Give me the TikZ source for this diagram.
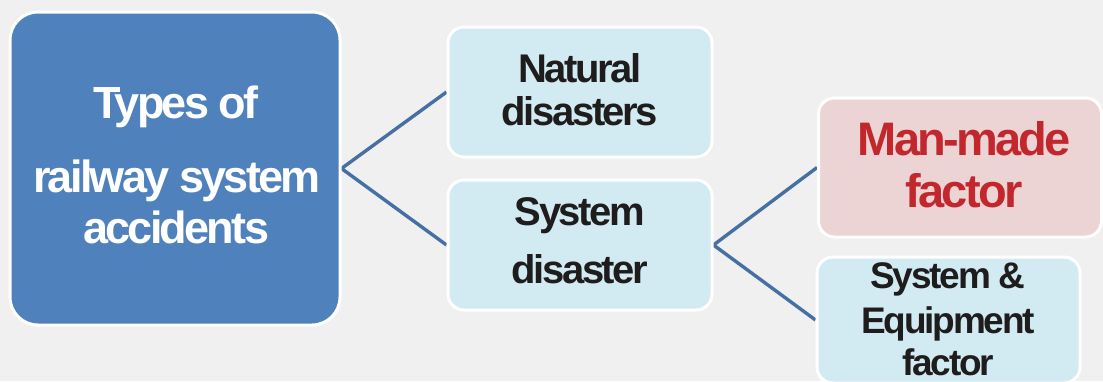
\documentclass[tikz,border=0pt]{standalone}
\usepackage{fontspec}
\setmainfont{Liberation Sans}[LetterSpace=-6]
\usetikzlibrary{backgrounds}

\definecolor{pagegray}{HTML}{F0F0F0}
\definecolor{rootblue}{HTML}{4F81BD}
\definecolor{paleblue}{HTML}{D2EAF1}
\definecolor{palepink}{HTML}{ECD4D4}
\definecolor{linkblue}{HTML}{4670A4}
\definecolor{inkdark}{HTML}{1E1C1C}
\definecolor{alertred}{HTML}{C1272D}

\tikzset{
  card/.style={rectangle, draw=white, line width=3pt, rounded corners=16pt, inner sep=0pt},
  link/.style={draw=linkblue, line width=3.4pt},
  lbl/.style={anchor=base, inner sep=0pt, text=inkdark},
}

\begin{document}
\begin{tikzpicture}[x=1pt, y=-1pt]
  \useasboundingbox (0,0) rectangle (1103,381);

  % category boxes
  \node[card, rounded corners=28pt, fill=rootblue, minimum width=330pt, minimum height=313pt] (root) at (175,168.5) {};
  \node[card, fill=paleblue, minimum width=264pt, minimum height=130pt] (natural) at (580,92) {};
  \node[card, fill=paleblue, minimum width=264pt, minimum height=130pt] (system) at (580,245) {};
  \node[card, fill=palepink, minimum width=283pt, minimum height=139pt] (manmade) at (960,167.5) {};
  \node[card, fill=paleblue, minimum width=263pt, minimum height=126pt] (equip) at (948.5,320) {};

  % page background and branch lines behind the boxes
  \begin{pgfonlayer}{background}
    \fill[pagegray] (0,0) rectangle (1103,381);
    \draw[link] (natural.west) -- (root.east) -- (system.west);
    \draw[link] (manmade.west) -- (system.east) -- (equip.west);
  \end{pgfonlayer}

  % box texts, one node per line
  \begin{scope}[every node/.append style={font=\bfseries\fontsize{45}{51}\selectfont}]
    \node[lbl, text=white] (rootA) at (176,118) {Types of};
    \node[lbl, text=white] (rootB) at (177,192) {railway system};
    \node[lbl, text=white] (rootC) at (176,243) {accidents};
  \end{scope}
  \begin{scope}[every node/.append style={font=\bfseries\fontsize{40}{44}\selectfont}]
    \node[lbl] (naturalA) at (580,82) {Natural};
    \node[lbl] (naturalB) at (580,125) {disasters};
    \node[lbl] (systemA) at (580,225) {System};
    \node[lbl] (systemB) at (580,283) {disaster};
  \end{scope}
  \begin{scope}[every node/.append style={font=\bfseries\fontsize{47}{52}\selectfont}]
    \node[lbl, text=alertred] (manmadeA) at (964,155) {Man-made};
    \node[lbl, text=alertred] (manmadeB) at (964,207) {factor};
  \end{scope}
  \begin{scope}[every node/.append style={font=\bfseries\fontsize{37}{42}\selectfont}]
    \node[lbl] (equipA) at (948,288) {System \&};
    \node[lbl] (equipB) at (948,333) {Equipment};
    \node[lbl] (equipC) at (948,375) {factor};
  \end{scope}
\end{tikzpicture}
\end{document}
